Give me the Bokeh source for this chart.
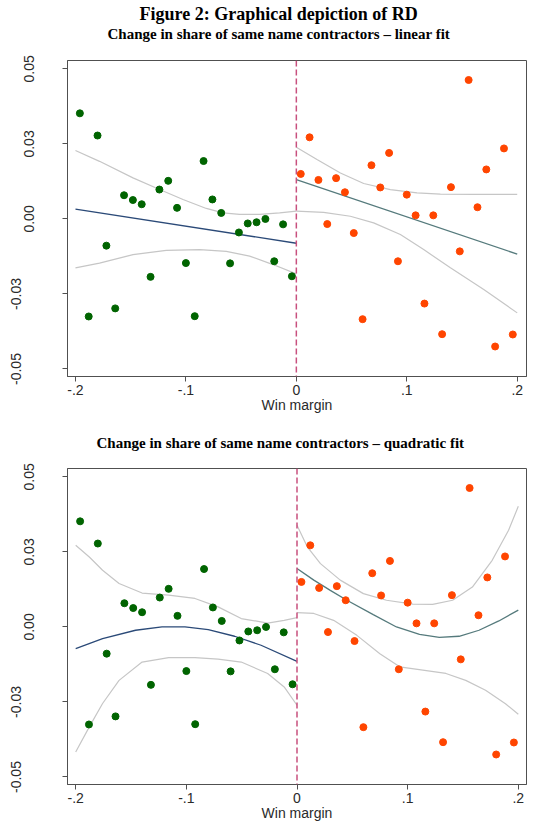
from bokeh.plotting import figure
from bokeh.models import Range1d, FixedTicker, LinearAxis, Title, Span
from bokeh.layouts import column
from bokeh.embed import file_html
from bokeh.resources import INLINE

# ---------------- data ----------------
main_title = "Figure 2: Graphical depiction of RD"
panel_titles = ["Change in share of same name contractors \u2013 linear fit",
                "Change in share of same name contractors \u2013 quadratic fit"]
x_label = "Win margin"
x_ticks = [-0.2, -0.1, 0.0, 0.1, 0.2]
x_tick_labels = ["-.2", "-.1", "0", ".1", ".2"]
y_ticks = [-0.05, -0.025, 0.0, 0.025, 0.05]
y_tick_labels = ["-0.05", "-0.03", "0.00", "0.03", "0.05"]
cutoff = 0.0

left_x = [-0.196, -0.188, -0.180, -0.172, -0.164, -0.156, -0.148, -0.140, -0.132,
          -0.124, -0.116, -0.108, -0.100, -0.092, -0.084, -0.076, -0.068, -0.060,
          -0.052, -0.044, -0.036, -0.028, -0.020, -0.012, -0.004]
left_y = [0.0352, -0.0325, 0.0278, -0.0089, -0.0298, 0.0079, 0.0063, 0.0049, -0.0193,
          0.0098, 0.0127, 0.0037, -0.0147, -0.0324, 0.0193, 0.0065, 0.0020, -0.0148,
          -0.0045, -0.0015, -0.0011, 0.0000, -0.0141, -0.0018, -0.0191]
right_x = [0.004, 0.012, 0.020, 0.028, 0.036, 0.044, 0.052, 0.060, 0.068, 0.076,
           0.084, 0.092, 0.100, 0.108, 0.116, 0.124, 0.132, 0.140, 0.148, 0.156,
           0.164, 0.172, 0.180, 0.188, 0.196]
right_y = [0.0150, 0.0272, 0.0130, -0.0017, 0.0136, 0.0089, -0.0047, -0.0334, 0.0179,
           0.0105, 0.0220, -0.0141, 0.0081, 0.0012, -0.0282, 0.0012, -0.0384, 0.0106,
           -0.0108, 0.0463, 0.0039, 0.0165, -0.0425, 0.0235, -0.0385]

# linear fit and confidence band (panel 1)
lin_l_fit_x = [-0.2, 0.0]
lin_l_fit_y = [0.0033, -0.0081]
lin_l_hi_x = [-0.2, -0.1782, -0.1479, -0.1238, -0.1026, -0.0815, -0.0664, -0.0514, -0.0332, -0.0151, 0.0]
lin_l_hi_y = [0.0228, 0.0192, 0.0137, 0.0098, 0.0065, 0.0035, 0.0020, 0.0015, 0.0015, 0.0020, 0.0026]
lin_l_lo_x = [-0.2, -0.1782, -0.1479, -0.1178, -0.0875, -0.0634, -0.0423, -0.0211, 0.0]
lin_l_lo_y = [-0.0163, -0.0147, -0.0119, -0.0105, -0.0102, -0.0108, -0.0124, -0.0152, -0.0183]
lin_r_fit_x = [0.0, 0.2]
lin_r_fit_y = [0.0131, -0.0117]
lin_r_hi_x = [0.0, 0.0187, 0.0399, 0.0610, 0.0851, 0.1093, 0.1304, 0.1606, 0.2]
lin_r_hi_y = [0.0239, 0.0198, 0.0153, 0.0118, 0.0098, 0.0087, 0.0083, 0.0082, 0.0082]
lin_r_lo_x = [0.0, 0.0247, 0.0489, 0.0700, 0.0942, 0.1153, 0.1395, 0.1697, 0.2]
lin_r_lo_y = [0.0026, 0.0022, 0.0009, -0.0013, -0.0052, -0.0102, -0.0163, -0.0235, -0.0313]

# quadratic fit and confidence band (panel 2)
quad_l_fit_x = [-0.2, -0.1757, -0.1459, -0.1220, -0.1012, -0.0802, -0.0564, -0.0325, 0.0]
quad_l_fit_y = [-0.0072, -0.0039, -0.0011, 0.0000, 0.0000, -0.0009, -0.0031, -0.0061, -0.0115]
quad_l_hi_x = [-0.2, -0.1877, -0.1757, -0.1608, -0.1400, -0.1160, -0.0922, -0.0713, -0.0504, -0.0265, -0.0116, 0.0]
quad_l_hi_y = [0.0272, 0.0233, 0.0189, 0.0145, 0.0113, 0.0106, 0.0095, 0.0067, 0.0028, 0.0013, 0.0022, 0.0031]
quad_l_lo_x = [-0.2, -0.1877, -0.1757, -0.1608, -0.1400, -0.1160, -0.0922, -0.0713, -0.0504, -0.0265, -0.0116, 0.0]
quad_l_lo_y = [-0.0417, -0.0333, -0.0255, -0.0178, -0.0117, -0.0102, -0.0102, -0.0107, -0.0117, -0.0155, -0.0200, -0.0261]
quad_r_fit_x = [0.0, 0.0152, 0.0301, 0.0451, 0.0689, 0.0899, 0.1107, 0.1286, 0.1465, 0.1645, 0.1824, 0.2]
quad_r_fit_y = [0.0195, 0.0156, 0.0122, 0.0089, 0.0041, 0.0000, -0.0025, -0.0035, -0.0031, -0.0011, 0.0020, 0.0056]
quad_r_hi_x = [0.0, 0.0093, 0.0212, 0.0391, 0.0600, 0.0809, 0.1047, 0.1226, 0.1406, 0.1585, 0.1764, 0.1912, 0.2]
quad_r_hi_y = [0.0339, 0.0267, 0.0211, 0.0156, 0.0111, 0.0089, 0.0076, 0.0075, 0.0089, 0.0133, 0.0222, 0.0322, 0.0402]
quad_r_lo_x = [0.0, 0.0152, 0.0331, 0.0541, 0.0749, 0.0928, 0.1137, 0.1346, 0.1525, 0.1704, 0.1884, 0.2]
quad_r_lo_y = [0.0048, 0.0045, 0.0022, -0.0028, -0.0089, -0.0133, -0.0144, -0.0155, -0.0178, -0.0211, -0.0256, -0.0291]

# ---------------- styling ----------------
FRAME = "#505050"
TXT = "#2a2a2a"
SANS = "Liberation Sans"
SERIF = "Liberation Serif"
GREEN = "#006400"
ORANGE = "#FF4500"
FIT_L = "#2B4A78"
FIT_R = "#557A7C"
CI = "#C6C6C6"
CUT = "#C8507E"
AX_FS = "14px"


def make_panel(width, height, b_left, b_right, b_top, b_bottom, xr, fits):
    p = figure(width=width, height=height, output_backend="svg", toolbar_location=None,
               x_range=Range1d(*xr), y_range=Range1d(-0.0525, 0.0528),
               min_border_left=b_left, min_border_right=b_right,
               min_border_top=b_top, min_border_bottom=b_bottom,
               title=None)
    p.background_fill_color = "white"
    p.border_fill_color = "white"
    p.outline_line_color = FRAME
    p.outline_line_width = 1
    p.grid.visible = False

    # x axis
    xa = p.xaxis[0]
    xa.ticker = FixedTicker(ticks=x_ticks)
    xa.major_label_overrides = {t_: l_ for t_, l_ in zip(x_ticks, x_tick_labels)}
    xa.axis_label = x_label
    xa.axis_label_text_font = SANS
    xa.axis_label_text_font_style = "normal"
    xa.axis_label_text_font_size = AX_FS
    xa.axis_label_text_color = TXT
    xa.axis_label_standoff = -1
    xa.major_label_text_font = SANS
    xa.major_label_text_font_size = AX_FS
    xa.major_label_text_color = TXT
    xa.major_label_standoff = 3
    xa.major_tick_out = 5
    xa.major_tick_in = 0
    xa.minor_tick_out = 0
    xa.minor_tick_in = 0
    xa.axis_line_color = FRAME
    xa.major_tick_line_color = FRAME

    # y axis: inner axis carries ticks and the non-negative labels
    ya = p.yaxis[0]
    ya.ticker = FixedTicker(ticks=y_ticks)
    ya.major_label_overrides = {t_: (l_ if t_ >= 0 else "") for t_, l_ in zip(y_ticks, y_tick_labels)}
    ya.major_label_orientation = "vertical"
    ya.major_label_text_font = SANS
    ya.major_label_text_font_size = AX_FS
    ya.major_label_text_color = TXT
    ya.major_label_standoff = 28
    ya.major_tick_out = 5
    ya.major_tick_in = 0
    ya.minor_tick_out = 0
    ya.minor_tick_in = 0
    ya.axis_line_color = FRAME
    ya.major_tick_line_color = FRAME

    # outer axis carries the negative labels, which sit further out
    neg_ticks = [t_ for t_ in y_ticks if t_ < 0]
    yb = LinearAxis(ticker=FixedTicker(ticks=neg_ticks),
                    major_label_overrides={t_: l_ for t_, l_ in zip(y_ticks, y_tick_labels) if t_ < 0},
                    major_label_orientation="vertical",
                    major_label_text_font=SANS, major_label_text_font_size=AX_FS,
                    major_label_text_color=TXT, major_label_standoff=0,
                    major_tick_out=0, major_tick_in=0, minor_tick_out=0, minor_tick_in=0,
                    axis_line_color=None, major_tick_line_color=None)
    p.add_layout(yb, "left")

    # cutoff line
    p.add_layout(Span(location=cutoff, dimension="height", line_color=CUT,
                      line_width=1.5, line_dash="6 3"))

    for (fx, fy, col) in fits:
        p.line(fx, fy, line_color=col, line_width=1.3 if col != CI else 1.2)

    p.scatter(left_x, left_y, size=7, fill_color=GREEN, line_color=GREEN)
    p.scatter(right_x, right_y, size=7, fill_color=ORANGE, line_color=ORANGE)
    return p


def title(text, size, offset, standoff):
    return Title(text=text, align="left", offset=offset, text_font=SERIF,
                 text_font_style="bold", text_font_size=size, text_color="black",
                 standoff=standoff)


fits1 = [(lin_l_hi_x, lin_l_hi_y, CI), (lin_l_lo_x, lin_l_lo_y, CI),
         (lin_r_hi_x, lin_r_hi_y, CI), (lin_r_lo_x, lin_r_lo_y, CI),
         (lin_l_fit_x, lin_l_fit_y, FIT_L), (lin_r_fit_x, lin_r_fit_y, FIT_R)]
fits2 = [(quad_l_hi_x, quad_l_hi_y, CI), (quad_l_lo_x, quad_l_lo_y, CI),
         (quad_r_hi_x, quad_r_hi_y, CI), (quad_r_lo_x, quad_r_lo_y, CI),
         (quad_l_fit_x, quad_l_fit_y, FIT_L), (quad_r_fit_x, quad_r_fit_y, FIT_R)]

# panel 1: canvas 0..420, frame 67..526 x 60..376
p1 = make_panel(537, 420, 67, 11, 60, 44, (-0.2072, 0.2084), fits1)
p1.add_layout(Title(text=" ", text_font_size="1px", standoff=16), "above")
p1.add_layout(title(panel_titles[0], "15px", 40, 0), "above")
p1.add_layout(title(main_title, "18px", 72, 0), "above")

# panel 2: canvas 420..834, frame 65..528 x 468..784
p2 = make_panel(537, 414, 65, 9, 48, 50, (-0.2074, 0.2074), fits2)
p2.add_layout(Title(text=" ", text_font_size="1px", standoff=15), "above")
p2.add_layout(title(panel_titles[1], "15px", 29, 0), "above")

layout = column(p1, p2, spacing=0)
open("out.html", "w").write(file_html(layout, INLINE))
